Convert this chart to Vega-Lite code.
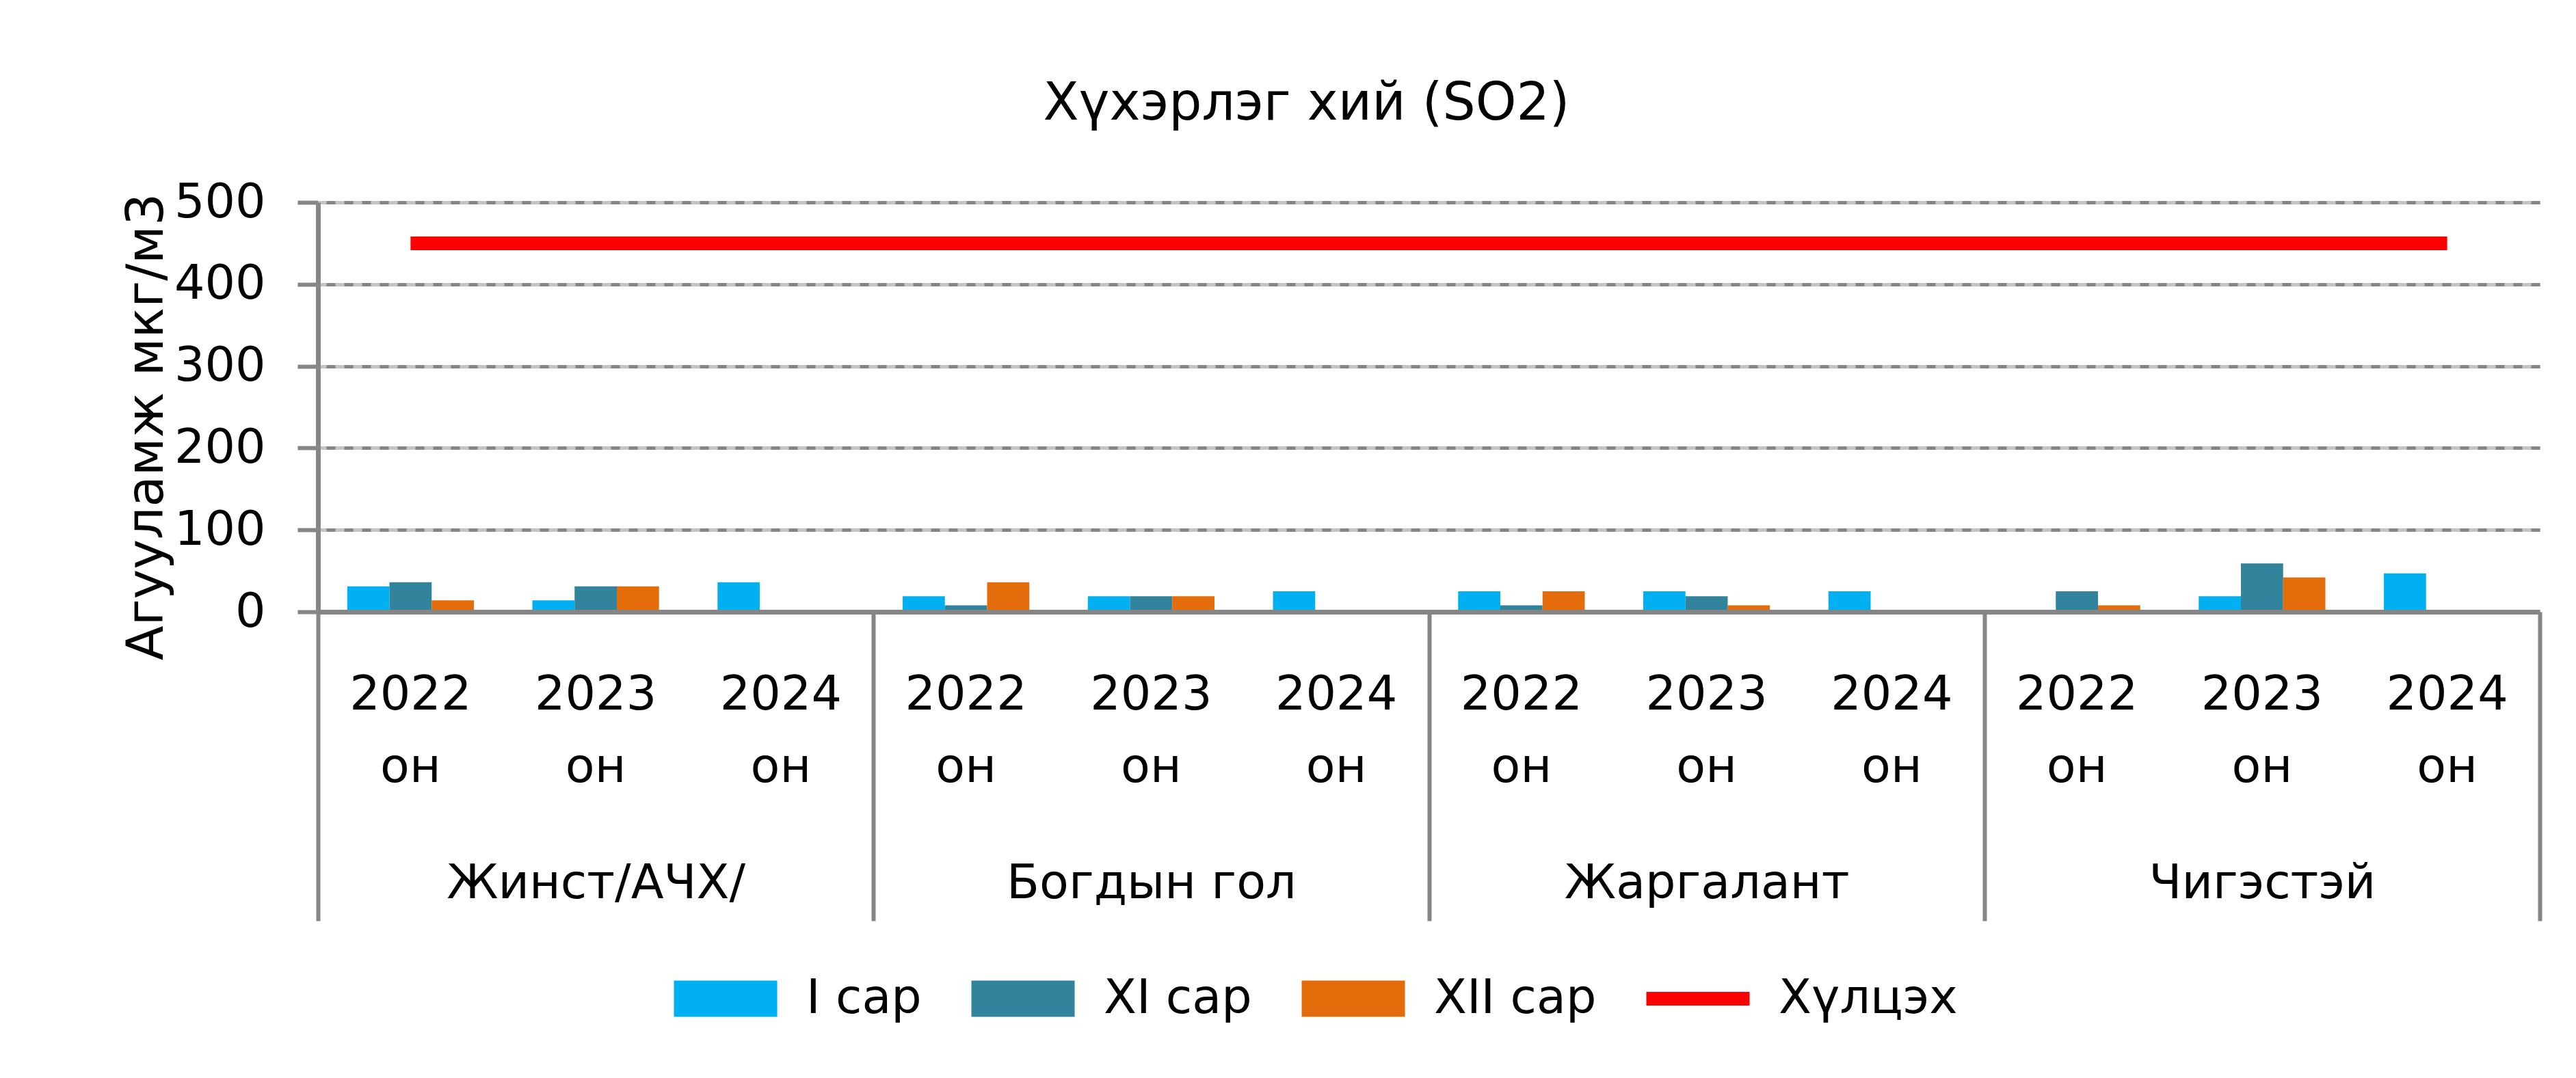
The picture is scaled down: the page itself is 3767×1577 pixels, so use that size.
{
  "$schema": "https://vega.github.io/schema/vega-lite/v6.json",
  "autosize": "none",
  "width": 3249,
  "height": 599,
  "padding": {"left": 465, "top": 296, "right": 53, "bottom": 682},
  "background": "white",
  "config": {
    "font": "DejaVu Sans",
    "view": {"stroke": null},
    "axis": {"labelColor": "#000000", "titleColor": "#000000", "labelFont": "DejaVu Sans", "titleFont": "DejaVu Sans"}
  },
  "title": {
    "text": "Хүхэрлэг хий (SO2)",
    "fontSize": 76,
    "fontWeight": "normal",
    "font": "DejaVu Sans",
    "color": "#000000",
    "anchor": "middle",
    "frame": "group",
    "dx": -179,
    "offset": 70
  },
  "datasets": {
    "bars": [
      {"station": "Жинст/АЧХ/", "year": "2022", "cat": "Жинст/АЧХ/|2022", "series": "I сар", "value": 31},
      {"station": "Жинст/АЧХ/", "year": "2022", "cat": "Жинст/АЧХ/|2022", "series": "XI сар", "value": 36},
      {"station": "Жинст/АЧХ/", "year": "2022", "cat": "Жинст/АЧХ/|2022", "series": "XII сар", "value": 14},
      {"station": "Жинст/АЧХ/", "year": "2023", "cat": "Жинст/АЧХ/|2023", "series": "I сар", "value": 14},
      {"station": "Жинст/АЧХ/", "year": "2023", "cat": "Жинст/АЧХ/|2023", "series": "XI сар", "value": 31},
      {"station": "Жинст/АЧХ/", "year": "2023", "cat": "Жинст/АЧХ/|2023", "series": "XII сар", "value": 31},
      {"station": "Жинст/АЧХ/", "year": "2024", "cat": "Жинст/АЧХ/|2024", "series": "I сар", "value": 36},
      {"station": "Богдын гол", "year": "2022", "cat": "Богдын гол|2022", "series": "I сар", "value": 19},
      {"station": "Богдын гол", "year": "2022", "cat": "Богдын гол|2022", "series": "XI сар", "value": 8},
      {"station": "Богдын гол", "year": "2022", "cat": "Богдын гол|2022", "series": "XII сар", "value": 36},
      {"station": "Богдын гол", "year": "2023", "cat": "Богдын гол|2023", "series": "I сар", "value": 19},
      {"station": "Богдын гол", "year": "2023", "cat": "Богдын гол|2023", "series": "XI сар", "value": 19},
      {"station": "Богдын гол", "year": "2023", "cat": "Богдын гол|2023", "series": "XII сар", "value": 19},
      {"station": "Богдын гол", "year": "2024", "cat": "Богдын гол|2024", "series": "I сар", "value": 25},
      {"station": "Жаргалант", "year": "2022", "cat": "Жаргалант|2022", "series": "I сар", "value": 25},
      {"station": "Жаргалант", "year": "2022", "cat": "Жаргалант|2022", "series": "XI сар", "value": 8},
      {"station": "Жаргалант", "year": "2022", "cat": "Жаргалант|2022", "series": "XII сар", "value": 25},
      {"station": "Жаргалант", "year": "2023", "cat": "Жаргалант|2023", "series": "I сар", "value": 25},
      {"station": "Жаргалант", "year": "2023", "cat": "Жаргалант|2023", "series": "XI сар", "value": 19},
      {"station": "Жаргалант", "year": "2023", "cat": "Жаргалант|2023", "series": "XII сар", "value": 8},
      {"station": "Жаргалант", "year": "2024", "cat": "Жаргалант|2024", "series": "I сар", "value": 25},
      {"station": "Чигэстэй", "year": "2022", "cat": "Чигэстэй|2022", "series": "XI сар", "value": 25},
      {"station": "Чигэстэй", "year": "2022", "cat": "Чигэстэй|2022", "series": "XII сар", "value": 8},
      {"station": "Чигэстэй", "year": "2023", "cat": "Чигэстэй|2023", "series": "I сар", "value": 19},
      {"station": "Чигэстэй", "year": "2023", "cat": "Чигэстэй|2023", "series": "XI сар", "value": 59},
      {"station": "Чигэстэй", "year": "2023", "cat": "Чигэстэй|2023", "series": "XII сар", "value": 42},
      {"station": "Чигэстэй", "year": "2024", "cat": "Чигэстэй|2024", "series": "I сар", "value": 47}
    ],
    "limit": [
      {"cat": "Жинст/АЧХ/|2022", "series": "Хүлцэх", "value": 450},
      {"cat": "Жинст/АЧХ/|2023", "series": "Хүлцэх", "value": 450},
      {"cat": "Жинст/АЧХ/|2024", "series": "Хүлцэх", "value": 450},
      {"cat": "Богдын гол|2022", "series": "Хүлцэх", "value": 450},
      {"cat": "Богдын гол|2023", "series": "Хүлцэх", "value": 450},
      {"cat": "Богдын гол|2024", "series": "Хүлцэх", "value": 450},
      {"cat": "Жаргалант|2022", "series": "Хүлцэх", "value": 450},
      {"cat": "Жаргалант|2023", "series": "Хүлцэх", "value": 450},
      {"cat": "Жаргалант|2024", "series": "Хүлцэх", "value": 450},
      {"cat": "Чигэстэй|2022", "series": "Хүлцэх", "value": 450},
      {"cat": "Чигэстэй|2023", "series": "Хүлцэх", "value": 450},
      {"cat": "Чигэстэй|2024", "series": "Хүлцэх", "value": 450}
    ],
    "stations": [
      {"station": "Жинст/АЧХ/"},
      {"station": "Богдын гол"},
      {"station": "Жаргалант"},
      {"station": "Чигэстэй"}
    ]
  },
  "layer": [
    {
      "layer": [
        {
          "data": {"name": "bars"},
          "mark": {"type": "bar"},
          "encoding": {
            "x": {
              "field": "cat",
              "type": "nominal",
              "scale": {
                "domain": ["Жинст/АЧХ/|2022", "Жинст/АЧХ/|2023", "Жинст/АЧХ/|2024", "Богдын гол|2022", "Богдын гол|2023", "Богдын гол|2024", "Жаргалант|2022", "Жаргалант|2023", "Жаргалант|2024", "Чигэстэй|2022", "Чигэстэй|2023", "Чигэстэй|2024"],
                "paddingInner": 0.316,
                "paddingOuter": 0.158
              },
              "axis": {
                "orient": "bottom",
                "title": null,
                "labelExpr": "[split(datum.value, '|')[1], 'он']",
                "labelAngle": 0,
                "labelFontSize": 70,
                "labelLineHeight": 106,
                "labelPadding": 87,
                "labelLimit": 2000,
                "ticks": false,
                "tickSize": 0,
                "grid": false,
                "domainColor": "#868686",
                "domainWidth": 7,
                "zindex": 1
              }
            },
            "xOffset": {
              "field": "series",
              "type": "nominal",
              "scale": {"domain": ["I сар", "XI сар", "XII сар"], "paddingInner": 0, "paddingOuter": 0}
            },
            "y": {
              "field": "value",
              "type": "quantitative",
              "scale": {"domain": [0, 500], "nice": false},
              "axis": {
                "orient": "left",
                "values": [0, 100, 200, 300, 400, 500],
                "title": "Агууламж мкг/м3",
                "titleFontSize": 74,
                "titleFontWeight": "normal",
                "titlePadding": 12,
                "titleY": 328,
                "labelFontSize": 70,
                "labelPadding": 47,
                "tickSize": 30,
                "tickWidth": 6,
                "tickColor": "#868686",
                "domainColor": "#868686",
                "domainWidth": 7,
                "grid": true,
                "gridColor": "#C4C4C4",
                "gridWidth": 5
              }
            },
            "color": {
              "field": "series",
              "type": "nominal",
              "scale": {
                "domain": ["I сар", "XI сар", "XII сар", "Хүлцэх"],
                "range": ["#00B0F0", "#31849B", "#E46C0A", "#FF0000"]
              },
              "legend": {
                "title": null,
                "orient": "none",
                "direction": "horizontal",
                "legendX": 512,
                "legendY": 1130,
                "symbolSize": 2809,
                "symbolStrokeWidth": 0,
                "symbolOpacity": 1,
                "labelFontSize": 70,
                "labelFont": "DejaVu Sans",
                "labelColor": "#000000",
                "labelOffset": 132,
                "labelLimit": 2000,
                "columnPadding": 64,
                "encode": {
                  "symbols": {
                    "update": {
                      "shape": {"signal": "datum.value === 'Хүлцэх' ? 'M-1,-0.38H4.7V0.38H-1Z' : 'M-1,-1H4.7V1H-1Z'"},
                      "strokeWidth": {"value": 0}
                    }
                  }
                }
              }
            }
          }
        },
        {
          "data": {"name": "limit"},
          "mark": {"type": "line", "color": "#FF0000", "strokeWidth": 20, "strokeCap": "butt"},
          "encoding": {
            "x": {"field": "cat", "type": "nominal"},
            "y": {
              "field": "value",
              "type": "quantitative",
              "axis": {
                "orient": "right",
                "values": [0, 100, 200, 300, 400, 500],
                "labels": false,
                "ticks": false,
                "domain": false,
                "title": null,
                "grid": true,
                "gridColor": "#868686",
                "gridWidth": 5,
                "gridDash": [13, 13]
              }
            }
          }
        }
      ],
      "resolve": {"axis": {"y": "independent"}}
    },
    {
      "data": {"name": "stations"},
      "mark": {"type": "rule", "opacity": 0},
      "encoding": {
        "x": {
          "field": "station",
          "type": "nominal",
          "scale": {
            "type": "band",
            "domain": ["Жинст/АЧХ/", "Богдын гол", "Жаргалант", "Чигэстэй"],
            "paddingInner": 0,
            "paddingOuter": 0
          },
          "axis": {
            "orient": "bottom",
            "title": null,
            "domain": false,
            "grid": false,
            "ticks": true,
            "tickBand": "extent",
            "tickSize": 452,
            "tickWidth": 6,
            "tickColor": "#868686",
            "labelAngle": 0,
            "labelFontSize": 70,
            "labelPadding": -89,
            "labelLimit": 2000
          }
        }
      }
    }
  ],
  "resolve": {"scale": {"x": "independent"}, "axis": {"x": "independent"}}
}
